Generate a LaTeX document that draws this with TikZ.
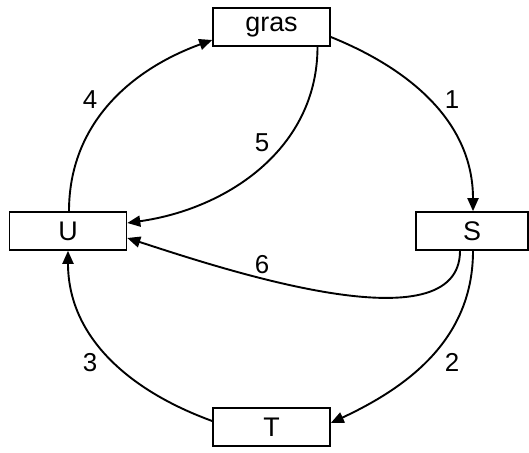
\documentclass[tikz,border=0pt]{standalone}
\usepackage{fontspec}
\setmainfont{Liberation Sans}
\usetikzlibrary{arrows.meta, positioning}

\begin{document}
\begin{tikzpicture}[x=1bp, y=1bp,
	box/.style={draw, line width=1.6bp, minimum width=117bp, minimum height=38bp, inner sep=0pt, font=\fontsize{27}{30}\selectfont},
	lbl/.style={font=\fontsize{26}{30}\selectfont},
	flow/.style={line width=1.9bp, -{Triangle[length=13bp, width=11bp]}}]
	\useasboundingbox (0,0) rectangle (529,453);
	
	% Boxes
	\node[box] (gras) at (271.5,426) {gras};
	\node[box] (U) at (68,222) {U};
	\node[box, minimum width=112bp] (S) at (472,222) {S};
	\node[box] (T) at (271.5,26) {T};
	
	% Outer cycle
	\draw[flow] ([yshift=-10bp]gras.east) to[out=-22, in=90] ([xshift=1bp]S.north);
	\draw[flow] ([xshift=1bp]S.south) to[out=-90, in=25] ([yshift=4bp]T.east);
	\draw[flow] ([yshift=6bp]T.west) to[out=160, in=-90] (U.south);
	\draw[flow] ([xshift=1bp]U.north) to[out=90, in=200] ([yshift=-13bp]gras.west);
	
	% Inner returns
	\draw[flow] ([xshift=46bp]gras.south) to[out=-90, in=8] ([yshift=8bp]U.east);
	\draw[flow] ([xshift=-12bp]S.south) to[out=-90, in=-18, looseness=0.75] ([yshift=-7bp]U.east);
	
	% Labels
	\node[lbl] (n1) at (452,353) {1};
	\node[lbl] (n2) at (452,91) {2};
	\node[lbl] (n3) at (90,90) {3};
	\node[lbl] (n4) at (90,353) {4};
	\node[lbl] (n5) at (262,310) {5};
	\node[lbl] (n6) at (262,188) {6};
\end{tikzpicture}
\end{document}
